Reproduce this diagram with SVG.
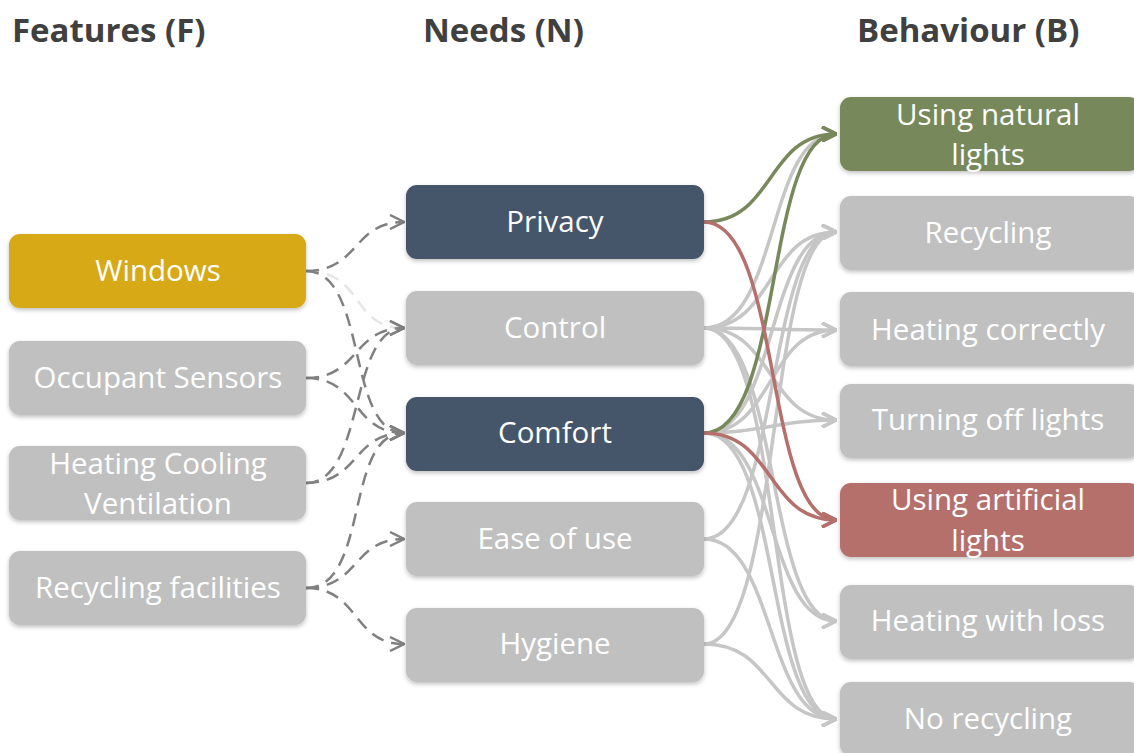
<svg xmlns="http://www.w3.org/2000/svg" width="1134" height="753" viewBox="0 0 1134 753">
<defs>
<filter id="sh" x="-10%" y="-20%" width="120%" height="150%">
<feDropShadow dx="0" dy="2" stdDeviation="2" flood-color="#000" flood-opacity="0.25"/>
</filter>
<marker id="ad" viewBox="0 0 16 16" refX="15" refY="8" markerWidth="16" markerHeight="16" markerUnits="userSpaceOnUse" orient="auto">
<path d="M1,1 L15,8 L1,15" fill="none" stroke="#808080" stroke-width="2.5"/>
</marker>
<marker id="adf" viewBox="0 0 16 16" refX="15" refY="8" markerWidth="16" markerHeight="16" markerUnits="userSpaceOnUse" orient="auto">
<path d="M1,1 L15,8 L1,15" fill="none" stroke="#e6e6e6" stroke-width="2.5"/>
</marker>
<marker id="ag" viewBox="0 0 16 16" refX="15" refY="8" markerWidth="16" markerHeight="16" markerUnits="userSpaceOnUse" orient="auto">
<path d="M1,1 L15,8 L1,15" fill="none" stroke="#c6c6c6" stroke-width="3.5"/>
</marker>
<marker id="agr" viewBox="0 0 16 16" refX="15" refY="8" markerWidth="16" markerHeight="16" markerUnits="userSpaceOnUse" orient="auto">
<path d="M1,1 L15,8 L1,15" fill="none" stroke="#77885a" stroke-width="3.5"/>
</marker>
<marker id="are" viewBox="0 0 16 16" refX="15" refY="8" markerWidth="16" markerHeight="16" markerUnits="userSpaceOnUse" orient="auto">
<path d="M1,1 L15,8 L1,15" fill="none" stroke="#b5706c" stroke-width="3.5"/>
</marker>
</defs>
<style>
.hdr{font-family:"Open Sans","Liberation Sans",sans-serif;font-weight:bold;font-size:33px;fill:#404040}
.lbl{font-family:"Open Sans","Liberation Sans",sans-serif;font-size:29.5px;fill:#ffffff;text-anchor:middle}
.box{filter:url(#sh)}
.gray{fill:#c0c0c0}
.dark{fill:#44546a}
.gold{fill:#d7a915}
.green{fill:#77885a}
.red{fill:#b5706c}
.d{fill:none;stroke:#808080;stroke-width:2.5;stroke-dasharray:13 8;marker-end:url(#ad)}
.df{fill:none;stroke:#e6e6e6;stroke-width:2.5;stroke-dasharray:13 8;marker-end:url(#adf)}
.s{fill:none;stroke:#c6c6c6;stroke-width:3.5;marker-end:url(#ag)}
.sg{fill:none;stroke:#77885a;stroke-width:3.5;marker-end:url(#agr)}
.sr{fill:none;stroke:#b5706c;stroke-width:3.5;marker-end:url(#are)}
</style>
<rect width="1134" height="753" fill="#ffffff"/>
<text class="hdr" x="12" y="42">Features (F)</text>
<text class="hdr" x="423" y="42">Needs (N)</text>
<text class="hdr" x="857" y="42">Behaviour (B)</text>

<g id="connectors">
<path class="df" d="M306,271 C365,271 350,328 404,328"/>
<path class="d" d="M306,271 C360,271 352,222 404,222"/>
<path class="d" d="M306,271 C368,271 346,433 404,433"/>
<path class="d" d="M306,378 C360,378 352,328 404,328"/>
<path class="d" d="M306,378 C360,378 352,433 404,433"/>
<path class="d" d="M306,483 C366,483 348,328 404,328"/>
<path class="d" d="M306,483 C360,483 352,433 404,433"/>
<path class="d" d="M306,588 C370,588 344,433 404,433"/>
<path class="d" d="M306,588 C360,588 352,539 404,539"/>
<path class="d" d="M306,588 C360,588 352,644 404,644"/>

<path class="s" d="M704,328 C780,328 766,134 836,134"/>
<path class="s" d="M704,328 C775,328 766,232 836,232"/>
<path class="s" d="M704,328 C760,328 780,330 836,330"/>
<path class="s" d="M704,328 C775,328 766,420 836,420"/>
<path class="s" d="M704,328 C780,328 766,621 836,621"/>
<path class="s" d="M704,328 C784,328 764,719 836,719"/>
<path class="s" d="M704,433 C778,433 766,232 836,232"/>
<path class="s" d="M704,433 C775,433 766,330 836,330"/>
<path class="s" d="M704,433 C760,433 780,420 836,420"/>
<path class="s" d="M704,433 C778,433 766,621 836,621"/>
<path class="s" d="M704,433 C782,433 764,719 836,719"/>
<path class="s" d="M704,539 C780,539 766,232 836,232"/>
<path class="s" d="M704,539 C775,539 766,719 836,719"/>
<path class="s" d="M704,644 C782,644 766,232 836,232"/>
<path class="s" d="M704,644 C775,644 766,719 836,719"/>
<path class="sg" d="M704,222 C775,222 766,134 836,134"/>
<path class="sg" d="M704,433 C784,433 764,134 836,134"/>
<path class="sr" d="M704,222 C782,222 764,520 836,520"/>
<path class="sr" d="M704,433 C775,433 766,520 836,520"/>
</g>

<g id="f-windows"><rect class="box gold" x="9" y="234" width="297" height="74" rx="11"/><text class="lbl" x="158" y="281">Windows</text></g>
<g id="f-occupant"><rect class="box gray" x="9" y="341" width="297" height="74" rx="11"/><text class="lbl" x="158" y="388">Occupant Sensors</text></g>
<g id="f-hcv"><rect class="box gray" x="9" y="446" width="297" height="74" rx="11"/><text class="lbl" x="158" y="474">Heating Cooling</text><text class="lbl" x="158" y="514">Ventilation</text></g>
<g id="f-recycling"><rect class="box gray" x="9" y="551" width="297" height="74" rx="11"/><text class="lbl" x="158" y="598">Recycling facilities</text></g>

<g id="n-privacy"><rect class="box dark" x="406" y="185" width="298" height="74" rx="11"/><text class="lbl" x="555" y="232">Privacy</text></g>
<g id="n-control"><rect class="box gray" x="406" y="291" width="298" height="74" rx="11"/><text class="lbl" x="555" y="338">Control</text></g>
<g id="n-comfort"><rect class="box dark" x="406" y="397" width="298" height="74" rx="11"/><text class="lbl" x="555" y="443">Comfort</text></g>
<g id="n-ease"><rect class="box gray" x="406" y="502" width="298" height="74" rx="11"/><text class="lbl" x="555" y="549">Ease of use</text></g>
<g id="n-hygiene"><rect class="box gray" x="406" y="608" width="298" height="74" rx="11"/><text class="lbl" x="555" y="654">Hygiene</text></g>

<g id="b-natural"><rect class="box green" x="840" y="97" width="300" height="74" rx="11"/><text class="lbl" x="988" y="125">Using natural</text><text class="lbl" x="988" y="165">lights</text></g>
<g id="b-recycling"><rect class="box gray" x="840" y="196" width="300" height="74" rx="11"/><text class="lbl" x="988" y="243">Recycling</text></g>
<g id="b-heating"><rect class="box gray" x="840" y="292" width="300" height="74" rx="11"/><text class="lbl" x="988" y="340">Heating correctly</text></g>
<g id="b-turning"><rect class="box gray" x="840" y="384" width="300" height="74" rx="11"/><text class="lbl" x="988" y="430">Turning off lights</text></g>
<g id="b-artificial"><rect class="box red" x="840" y="483" width="300" height="74" rx="11"/><text class="lbl" x="988" y="510">Using artificial</text><text class="lbl" x="988" y="551">lights</text></g>
<g id="b-loss"><rect class="box gray" x="840" y="585" width="300" height="74" rx="11"/><text class="lbl" x="988" y="631">Heating with loss</text></g>
<g id="b-norecycling"><rect class="box gray" x="840" y="682" width="300" height="74" rx="11"/><text class="lbl" x="988" y="729">No recycling</text></g>
</svg>
